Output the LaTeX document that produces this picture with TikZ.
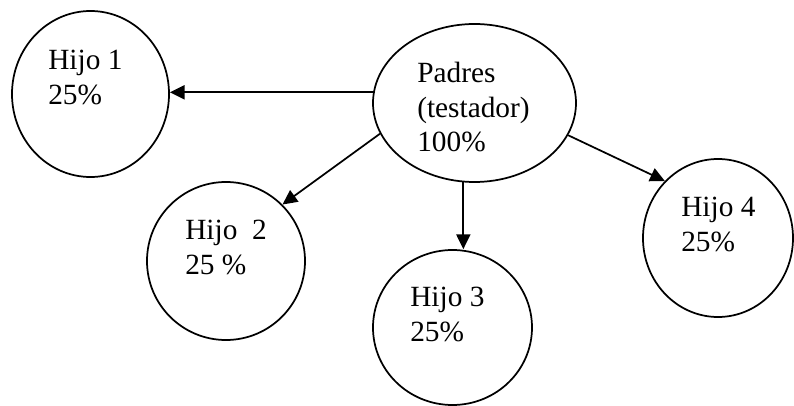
\documentclass[tikz,border=0pt]{standalone}
\usepackage{fontspec}
\setmainfont{Liberation Serif}
\usetikzlibrary{arrows.meta, shapes.geometric}

\begin{document}
\begin{tikzpicture}[
    x=0.75pt, y=-0.75pt,
    share/.style={draw, ellipse, line width=1.3pt, inner sep=0pt},
    txt/.style={anchor=north west, inner sep=0pt, align=left, font=\fontsize{22}{26}\selectfont},
    >={Triangle[length=11pt, width=10.5pt]}
]
\useasboundingbox (0,0) rectangle (794,406);

% parent and the four heirs
\node[share, minimum width=152.25pt, minimum height=118.5pt] (padres) at (474.5,103) {};
\node[share, minimum width=117.75pt, minimum height=124.5pt] (hijoA) at (90.5,94) {};
\node[share, minimum width=118.5pt, minimum height=118.5pt] (hijoB) at (226,261) {};
\node[share, minimum width=119.25pt, minimum height=116.25pt] (hijoC) at (452.5,327.5) {};
\node[share, minimum width=112.5pt, minimum height=118.5pt] (hijoD) at (718,238) {};

\node[txt] (padresT) at (417,62) {Padres\\(testador)\\100\%};
\node[txt] (hijoAT) at (48,50) {Hijo 1\\25\%};
\node[txt] (hijoBT) at (185,220) {Hijo\ \ 2\\25 \%};
\node[txt] (hijoCT) at (410,287) {Hijo 3\\25\%};
\node[txt] (hijoDT) at (681,197) {Hijo 4\\25\%};

\draw[->, line width=1.3pt] (padres.174) -- (padres.174 -| hijoA.east);
\draw[->, line width=1.3pt] (padres.198) -- (hijoB.45);
\draw[->, line width=1.3pt] (padres.262) -- (padres.262 |- hijoC.north);
\draw[->, line width=1.3pt] (padres.341) -- (hijoD.133);
\end{tikzpicture}
\end{document}
